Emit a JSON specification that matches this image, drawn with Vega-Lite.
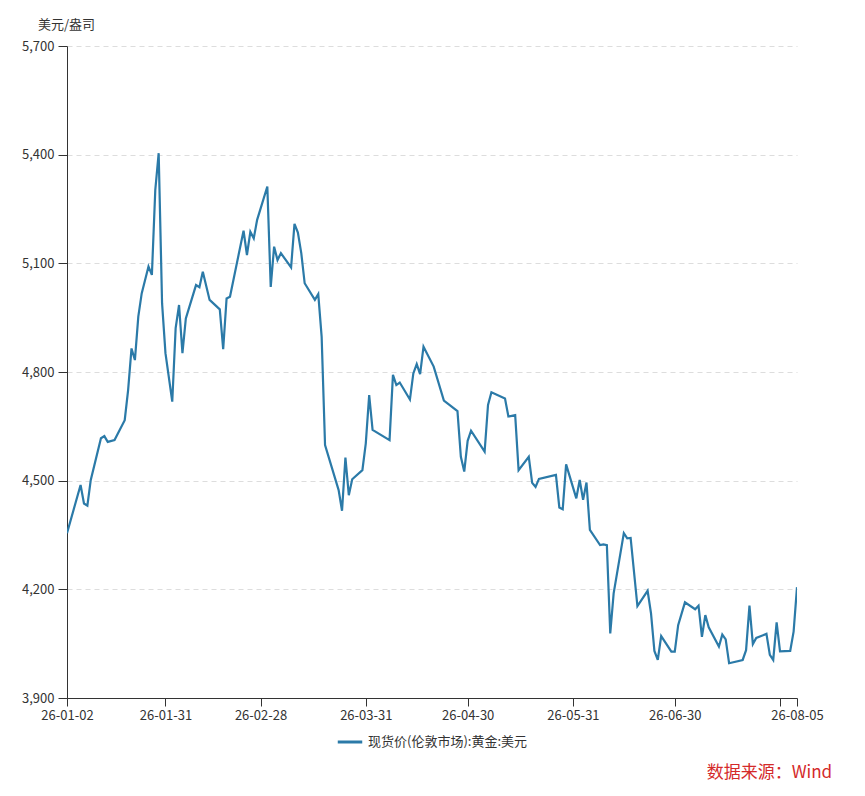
{
  "$schema": "https://vega.github.io/schema/vega-lite/v6.json",
  "width": 730,
  "height": 652,
  "autosize": {"type": "none"},
  "padding": {"left": 67, "top": 46, "right": 68, "bottom": 98},
  "background": "white",
  "title": {
    "text": "数据来源：Wind",
    "orient": "bottom",
    "anchor": "end",
    "color": "#d42a2a",
    "fontSize": 17,
    "fontWeight": "normal",
    "font": "Noto Sans CJK SC",
    "dx": 9,
    "offset": 16
  },
  "data": {
    "values": [
      {"date": "2026/01/02", "price": 4355},
      {"date": "2026/01/06", "price": 4488},
      {"date": "2026/01/07", "price": 4437},
      {"date": "2026/01/08", "price": 4431},
      {"date": "2026/01/09", "price": 4502},
      {"date": "2026/01/12", "price": 4617},
      {"date": "2026/01/13", "price": 4623},
      {"date": "2026/01/14", "price": 4607},
      {"date": "2026/01/16", "price": 4612},
      {"date": "2026/01/19", "price": 4667},
      {"date": "2026/01/20", "price": 4750},
      {"date": "2026/01/21", "price": 4865},
      {"date": "2026/01/22", "price": 4833},
      {"date": "2026/01/23", "price": 4953},
      {"date": "2026/01/24", "price": 5017},
      {"date": "2026/01/26", "price": 5091},
      {"date": "2026/01/27", "price": 5068},
      {"date": "2026/01/28", "price": 5302},
      {"date": "2026/01/29", "price": 5404},
      {"date": "2026/01/30", "price": 4990},
      {"date": "2026/01/31", "price": 4852},
      {"date": "2026/02/02", "price": 4718},
      {"date": "2026/02/03", "price": 4921},
      {"date": "2026/02/04", "price": 4985},
      {"date": "2026/02/05", "price": 4852},
      {"date": "2026/02/06", "price": 4948},
      {"date": "2026/02/09", "price": 5040},
      {"date": "2026/02/10", "price": 5034},
      {"date": "2026/02/11", "price": 5077},
      {"date": "2026/02/13", "price": 4999},
      {"date": "2026/02/16", "price": 4973},
      {"date": "2026/02/17", "price": 4863},
      {"date": "2026/02/18", "price": 5003},
      {"date": "2026/02/19", "price": 5008},
      {"date": "2026/02/23", "price": 5190},
      {"date": "2026/02/24", "price": 5123},
      {"date": "2026/02/25", "price": 5187},
      {"date": "2026/02/26", "price": 5169},
      {"date": "2026/02/27", "price": 5220},
      {"date": "2026/03/02", "price": 5312},
      {"date": "2026/03/03", "price": 5035},
      {"date": "2026/03/04", "price": 5146},
      {"date": "2026/03/05", "price": 5109},
      {"date": "2026/03/06", "price": 5128},
      {"date": "2026/03/09", "price": 5089},
      {"date": "2026/03/10", "price": 5209},
      {"date": "2026/03/11", "price": 5185},
      {"date": "2026/03/12", "price": 5128},
      {"date": "2026/03/13", "price": 5045},
      {"date": "2026/03/16", "price": 4999},
      {"date": "2026/03/17", "price": 5015},
      {"date": "2026/03/18", "price": 4897},
      {"date": "2026/03/19", "price": 4598},
      {"date": "2026/03/23", "price": 4474},
      {"date": "2026/03/24", "price": 4417},
      {"date": "2026/03/25", "price": 4564},
      {"date": "2026/03/26", "price": 4460},
      {"date": "2026/03/27", "price": 4504},
      {"date": "2026/03/30", "price": 4529},
      {"date": "2026/03/31", "price": 4603},
      {"date": "2026/04/01", "price": 4736},
      {"date": "2026/04/02", "price": 4640},
      {"date": "2026/04/07", "price": 4612},
      {"date": "2026/04/08", "price": 4792},
      {"date": "2026/04/09", "price": 4764},
      {"date": "2026/04/10", "price": 4771},
      {"date": "2026/04/13", "price": 4724},
      {"date": "2026/04/14", "price": 4796},
      {"date": "2026/04/15", "price": 4822},
      {"date": "2026/04/16", "price": 4794},
      {"date": "2026/04/17", "price": 4870},
      {"date": "2026/04/20", "price": 4815},
      {"date": "2026/04/23", "price": 4721},
      {"date": "2026/04/27", "price": 4692},
      {"date": "2026/04/28", "price": 4566},
      {"date": "2026/04/29", "price": 4525},
      {"date": "2026/04/30", "price": 4610},
      {"date": "2026/05/01", "price": 4638},
      {"date": "2026/05/05", "price": 4580},
      {"date": "2026/05/06", "price": 4709},
      {"date": "2026/05/07", "price": 4744},
      {"date": "2026/05/11", "price": 4727},
      {"date": "2026/05/12", "price": 4677},
      {"date": "2026/05/13", "price": 4679},
      {"date": "2026/05/14", "price": 4681},
      {"date": "2026/05/15", "price": 4529},
      {"date": "2026/05/18", "price": 4566},
      {"date": "2026/05/19", "price": 4494},
      {"date": "2026/05/20", "price": 4483},
      {"date": "2026/05/21", "price": 4505},
      {"date": "2026/05/26", "price": 4516},
      {"date": "2026/05/27", "price": 4426},
      {"date": "2026/05/28", "price": 4421},
      {"date": "2026/05/29", "price": 4545},
      {"date": "2026/06/01", "price": 4451},
      {"date": "2026/06/02", "price": 4502},
      {"date": "2026/06/03", "price": 4447},
      {"date": "2026/06/04", "price": 4495},
      {"date": "2026/06/05", "price": 4364},
      {"date": "2026/06/08", "price": 4322},
      {"date": "2026/06/09", "price": 4324},
      {"date": "2026/06/10", "price": 4322},
      {"date": "2026/06/11", "price": 4078},
      {"date": "2026/06/12", "price": 4189},
      {"date": "2026/06/15", "price": 4355},
      {"date": "2026/06/16", "price": 4341},
      {"date": "2026/06/17", "price": 4342},
      {"date": "2026/06/19", "price": 4154},
      {"date": "2026/06/22", "price": 4196},
      {"date": "2026/06/23", "price": 4134},
      {"date": "2026/06/24", "price": 4030},
      {"date": "2026/06/25", "price": 4005},
      {"date": "2026/06/26", "price": 4071},
      {"date": "2026/06/29", "price": 4028},
      {"date": "2026/06/30", "price": 4028},
      {"date": "2026/07/01", "price": 4101},
      {"date": "2026/07/03", "price": 4164},
      {"date": "2026/07/06", "price": 4145},
      {"date": "2026/07/07", "price": 4155},
      {"date": "2026/07/08", "price": 4069},
      {"date": "2026/07/09", "price": 4129},
      {"date": "2026/07/10", "price": 4095},
      {"date": "2026/07/13", "price": 4042},
      {"date": "2026/07/14", "price": 4075},
      {"date": "2026/07/15", "price": 4062},
      {"date": "2026/07/16", "price": 3996},
      {"date": "2026/07/20", "price": 4005},
      {"date": "2026/07/21", "price": 4032},
      {"date": "2026/07/22", "price": 4155},
      {"date": "2026/07/23", "price": 4049},
      {"date": "2026/07/24", "price": 4066},
      {"date": "2026/07/27", "price": 4077},
      {"date": "2026/07/28", "price": 4019},
      {"date": "2026/07/29", "price": 4005},
      {"date": "2026/07/30", "price": 4109},
      {"date": "2026/07/31", "price": 4029},
      {"date": "2026/08/03", "price": 4030},
      {"date": "2026/08/04", "price": 4083},
      {"date": "2026/08/05", "price": 4206}
    ]
  },
  "mark": {"type": "line", "strokeWidth": 2.2, "clip": true},
  "encoding": {
    "x": {
      "field": "date",
      "type": "temporal",
      "scale": {
        "domain": [
          {"year": 2026, "month": 1, "date": 2},
          {"year": 2026, "month": 8, "date": 5}
        ]
      },
      "axis": {
        "title": null,
        "grid": false,
        "values": [
          {"year": 2026, "month": 1, "date": 2},
          {"year": 2026, "month": 1, "date": 31},
          {"year": 2026, "month": 2, "date": 28},
          {"year": 2026, "month": 3, "date": 31},
          {"year": 2026, "month": 4, "date": 30},
          {"year": 2026, "month": 5, "date": 31},
          {"year": 2026, "month": 6, "date": 30},
          {"year": 2026, "month": 7, "date": 31},
          {"year": 2026, "month": 8, "date": 5}
        ],
        "labelExpr": "month(datum.value) == 6 && date(datum.value) == 31 ? '' : timeFormat(datum.value, '%y-%m-%d')",
        "labelOverlap": false,
        "labelFlush": false,
        "tickSize": 8,
        "labelPadding": 3
      }
    },
    "y": {
      "field": "price",
      "type": "quantitative",
      "scale": {"domain": [3900, 5700], "nice": false, "zero": false},
      "axis": {
        "values": [3900, 4200, 4500, 4800, 5100, 5400, 5700],
        "format": ",.0f",
        "title": "美元/盎司",
        "titleAngle": 0,
        "titleAlign": "center",
        "titleBaseline": "middle",
        "titleX": -1,
        "titleY": -22,
        "titleFontSize": 13,
        "titleFontWeight": "normal",
        "titleColor": "#333333",
        "grid": true,
        "gridDash": [5, 4],
        "gridColor": "#dddddd",
        "tickSize": 9,
        "labelPadding": 4
      }
    },
    "color": {
      "datum": "现货价(伦敦市场):黄金:美元",
      "type": "nominal",
      "scale": {"range": ["#2b7aa8"]},
      "legend": {
        "title": null,
        "orient": "none",
        "legendX": 269,
        "legendY": 682,
        "symbolType": "stroke",
        "symbolSize": 600,
        "symbolStrokeWidth": 3,
        "labelFontSize": 13,
        "labelColor": "#333333",
        "labelFont": "Noto Sans CJK SC",
        "labelOffset": 4
      }
    }
  },
  "config": {
    "font": "Noto Sans CJK SC",
    "view": {"stroke": null},
    "axis": {
      "domainColor": "#333333",
      "tickColor": "#333333",
      "labelColor": "#333333",
      "labelFontSize": 13,
      "labelFont": "Noto Sans CJK SC",
      "titleFont": "Noto Sans CJK SC"
    }
  }
}
